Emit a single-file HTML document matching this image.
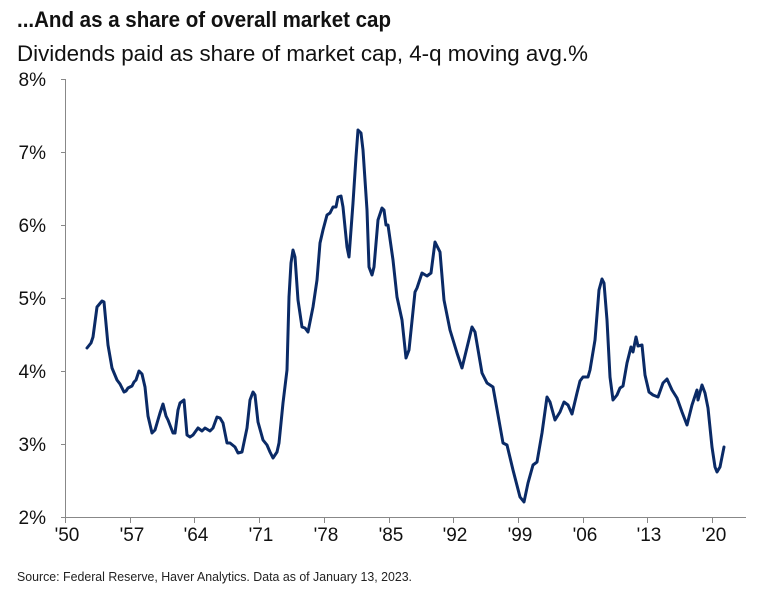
<!DOCTYPE html>
<html><head><meta charset="utf-8"><style>
html,body{margin:0;padding:0;background:#fff;}
svg{display:block;font-family:"Liberation Sans Narrow","Liberation Sans",sans-serif;}
</style></head><body>
<svg width="770" height="593" viewBox="0 0 770 593" xmlns="http://www.w3.org/2000/svg">
<rect width="770" height="593" fill="#fff"/>
<text x="17" y="27" font-size="22" font-weight="bold" fill="#111" textLength="374" lengthAdjust="spacingAndGlyphs">...And as a share of overall market cap</text>
<text x="17" y="61" font-size="22" fill="#111" textLength="571" lengthAdjust="spacingAndGlyphs">Dividends paid as share of market cap, 4-q moving avg.%</text>
<g stroke="#888" stroke-width="1" fill="none">
<line x1="65.5" y1="79" x2="65.5" y2="518"/>
<line x1="65" y1="517.5" x2="746" y2="517.5"/>
<line x1="61" y1="79.5" x2="65" y2="79.5"/>
<line x1="61" y1="152.5" x2="65" y2="152.5"/>
<line x1="61" y1="225.5" x2="65" y2="225.5"/>
<line x1="61" y1="298.5" x2="65" y2="298.5"/>
<line x1="61" y1="371.5" x2="65" y2="371.5"/>
<line x1="61" y1="444.5" x2="65" y2="444.5"/>
<line x1="61" y1="517.5" x2="65" y2="517.5"/>
<path d="M65.5 518v5M130.5 518v5M194.5 518v5M259.5 518v5M324.5 518v5M389.5 518v5M453.5 518v5M518.5 518v5M583.5 518v5M647.5 518v5M712.5 518v5"/>
</g>
<g font-size="19" fill="#111" text-anchor="end">
<text x="46" y="86">8%</text>
<text x="46" y="159">7%</text>
<text x="46" y="232">6%</text>
<text x="46" y="305">5%</text>
<text x="46" y="378">4%</text>
<text x="46" y="451">3%</text>
<text x="46" y="524">2%</text>
</g>
<g font-size="19" fill="#111" text-anchor="middle">
<text x="67" y="541">'50</text><text x="132" y="541">'57</text><text x="196" y="541">'64</text><text x="261" y="541">'71</text><text x="326" y="541">'78</text><text x="391" y="541">'85</text><text x="455" y="541">'92</text><text x="520" y="541">'99</text><text x="585" y="541">'06</text><text x="649" y="541">'13</text><text x="714" y="541">'20</text>
</g>
<text x="17" y="581" font-size="12.5" fill="#222" textLength="395" lengthAdjust="spacingAndGlyphs">Source: Federal Reserve, Haver Analytics. Data as of January 13, 2023.</text>
<polyline fill="none" stroke="#0a2a66" stroke-width="3" stroke-linejoin="round" stroke-linecap="round" points="
87,348 91,343 93,337 97,307 102,301 104,302 108,345 112,368 117,380 120,384 124,392 126,391 128,388 132,386 134,382 136,380 139,371 142,374 145,387 148,416 152,433 155,430 160,413 163,404 166,416 168,420 173,433 175,433 178,410 180,403 184,400 187,435 190,437 193,435 198,428 202,431 205,428 210,431 213,428 217,417 220,418 223,423 227,443 230,443 235,447 238,453 242,452 247,428 250,400 253,392 255,395 258,422 263,440 267,445 270,452 273,458 277,452 279,443 283,403 287,370 289,297 291,263 293,250 295,257 298,300 302,327 305,328 308,332 313,307 317,280 320,243 323,230 327,215 330,213 333,207 336,207 338,197 341,196 343,207 347,247 349,257 353,203 356,157 358,130 361,133 363,150 367,210 369,267 372,275 374,267 378,220 382,208 384,210 386,225 388,225 393,260 397,297 402,320 406,358 409,350 415,292 417,288 422,273 427,276 431,273 435,242 440,252 444,300 450,330 457,353 462,368 472,327 475,332 482,373 487,383 493,387 498,415 503,443 507,445 513,470 520,497 524,502 528,483 533,465 537,462 542,433 547,397 550,402 555,420 560,412 564,402 568,405 572,414 577,393 580,381 583,377 588,377 590,370 595,340 599,290 602,279 604,283 607,320 610,377 613,400 617,395 620,388 623,386 627,363 631,347 633,352 636,337 638,346 642,345 645,375 649,392 653,395 658,397 663,383 667,379 672,390 677,398 682,412 687,425 692,405 697,390 698,400 702,385 705,393 708,408 712,447 715,467 717,472 720,467 724,447"/>
</svg>
</body></html>
